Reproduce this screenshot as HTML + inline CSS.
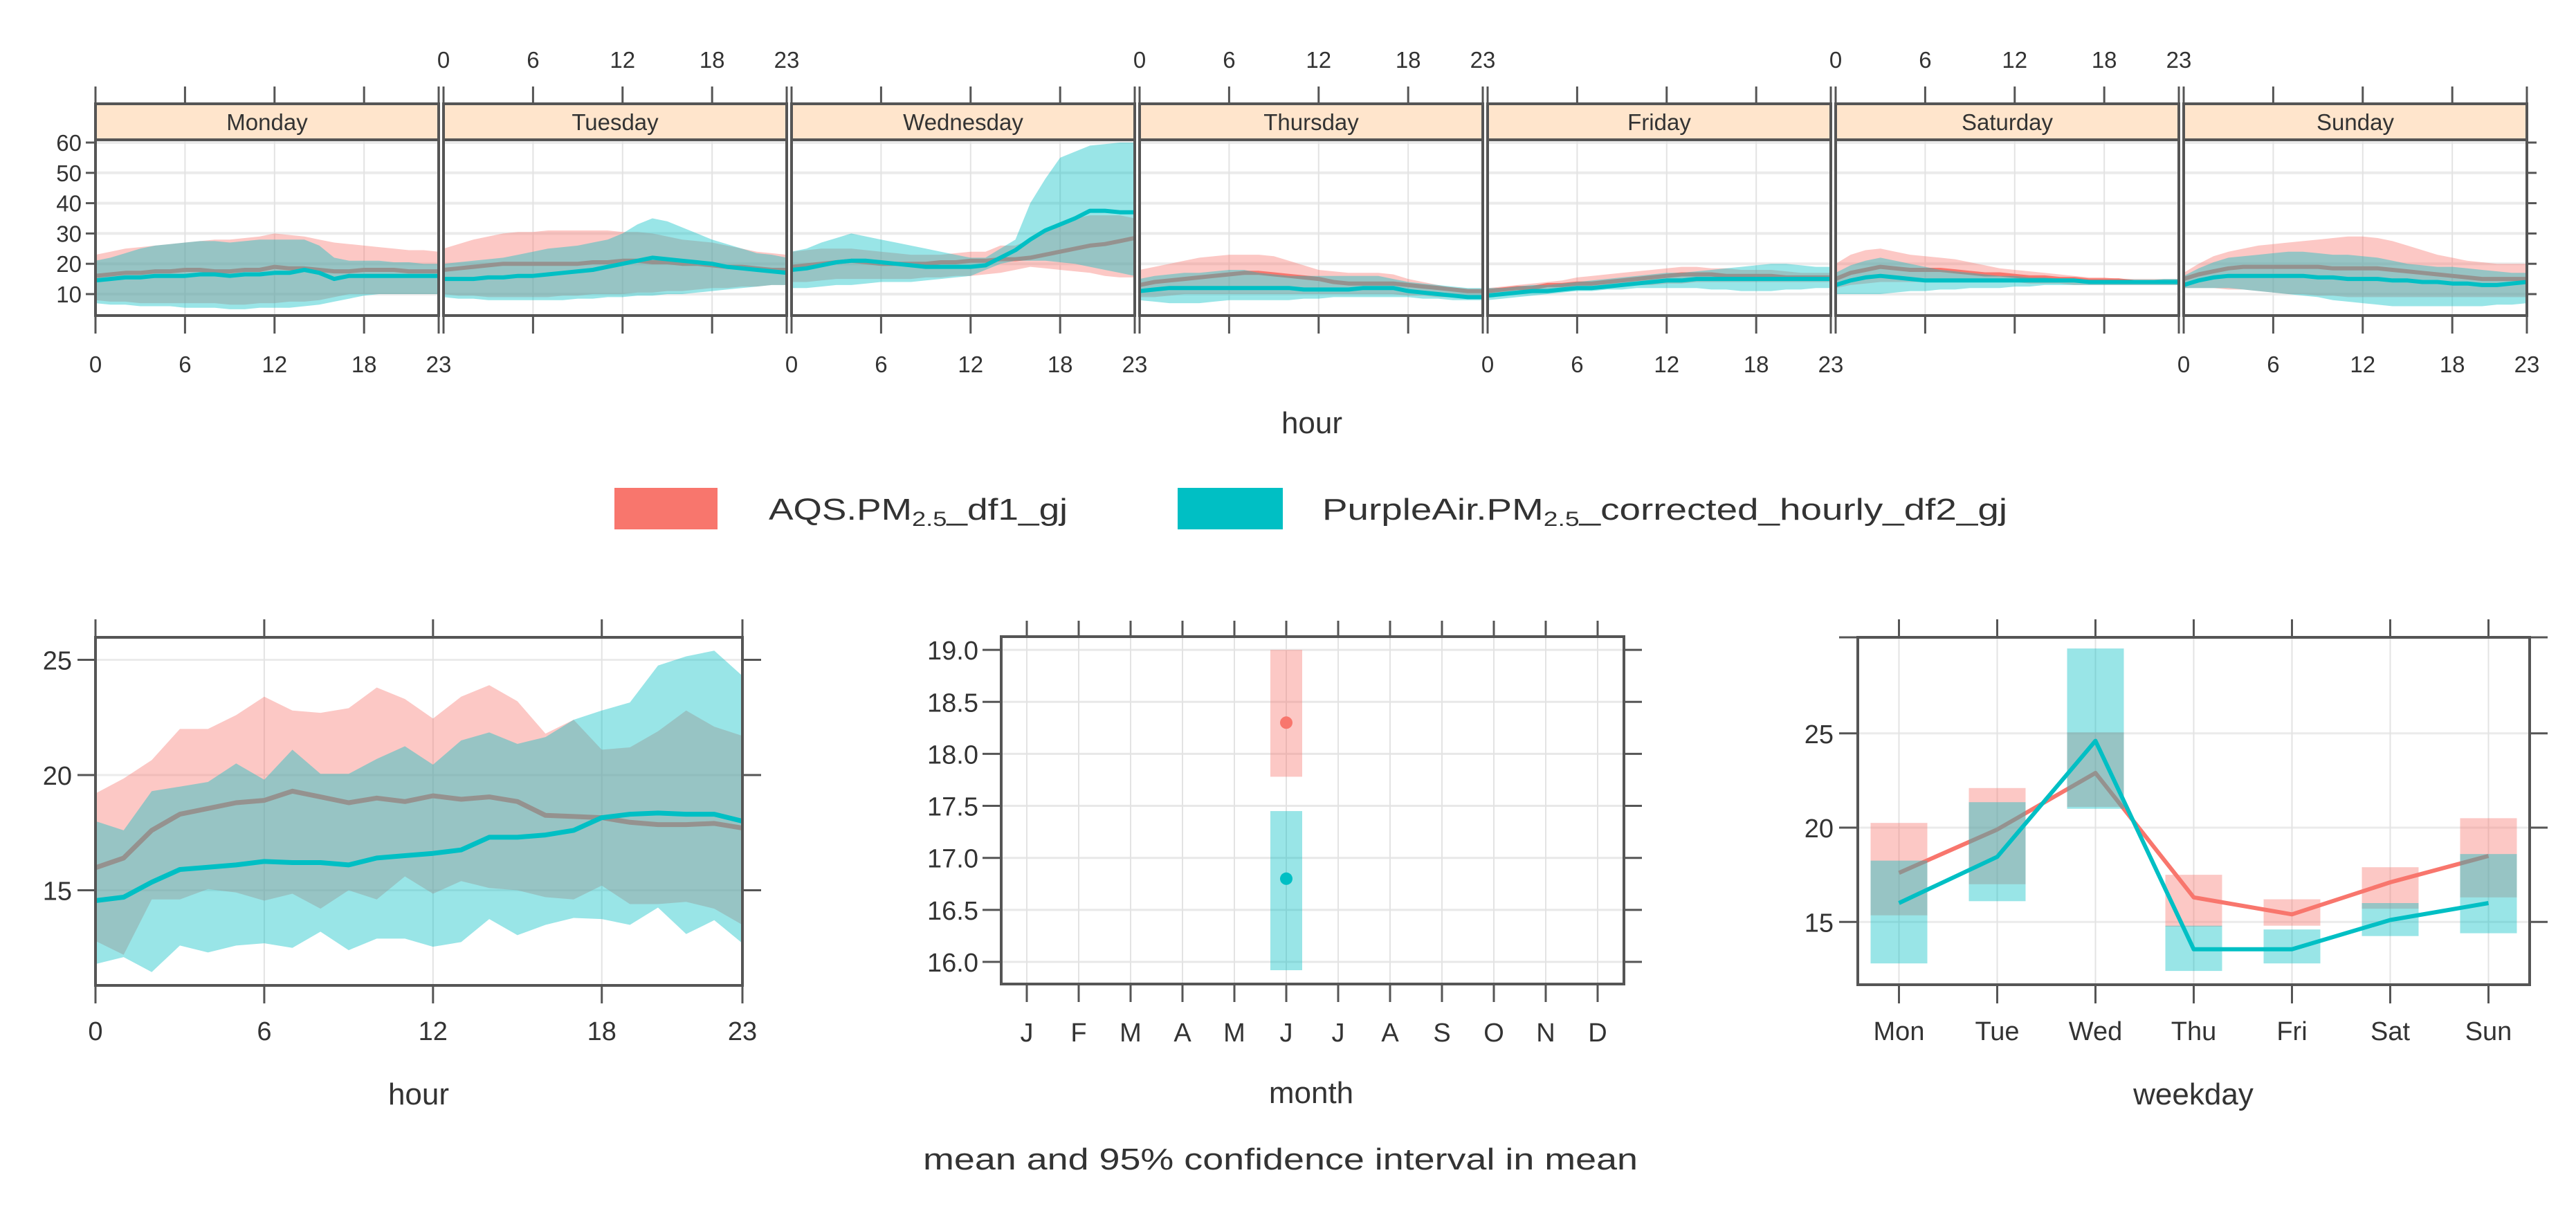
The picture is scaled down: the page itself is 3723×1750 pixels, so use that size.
<!DOCTYPE html>
<html><head><meta charset="utf-8"><style>
html,body{margin:0;padding:0;background:#fff}
svg{display:block}
text{font-family:"Liberation Sans",sans-serif;fill:#333}
</style></head><body>
<svg id="chart" width="3723" height="1750" viewBox="0 0 3723 1750" xmlns="http://www.w3.org/2000/svg">
<g id="top"></g>
<g id="legend">
  <rect x="888" y="705" width="149" height="60" fill="#F8766D"/>
  <text x="1111" y="751" font-size="44" textLength="432" lengthAdjust="spacingAndGlyphs">AQS.PM<tspan font-size="30" dy="9">2.5</tspan><tspan dy="-9">_df1_gj</tspan></text>
  <rect x="1702" y="705" width="152" height="60" fill="#00BFC4"/>
  <text x="1911" y="751" font-size="44" textLength="990" lengthAdjust="spacingAndGlyphs">PurpleAir.PM<tspan font-size="30" dy="9">2.5</tspan><tspan dy="-9">_corrected_hourly_df2_gj</tspan></text>
</g>
<g id="hourP"></g>
<g id="monthP"></g>
<g id="wdP"></g>
<text x="1334" y="1690" font-size="44" textLength="1033" lengthAdjust="spacingAndGlyphs">mean and 95% confidence interval in mean</text>
</svg>
<script>
// ===== data =====
const days = ["Monday","Tuesday","Wednesday","Thursday","Friday","Saturday","Sunday"];
const aqsMeanDay = [
[16,16.5,17,17,17.5,17.5,18,18,17.5,17.5,18,18,19,18.5,18.5,18,17.5,17.5,18,18,18,17.5,17.5,17.5],
[18,18.5,19,19.5,20,20,20,20,20,20,20.5,20.5,21,21,20.5,20.5,20,20,19.5,19,19,18.5,18,18],
[19,19.5,20,20.5,21,20.5,20,20,20,20,20.5,20.5,21,21,21.5,21.5,22,23,24,25,26,26.5,27.5,28.5],
[13,14,14.5,15,15.5,16,16.5,17,17,16.5,16,15.5,15,14,13.5,13.5,13.5,13.5,13,12.5,12,11.5,11,11],
[11,11.5,12,12,13,13,13.5,13.5,14,14.5,15,15.5,16,16.5,16.5,16.5,16,16,16,16,15.5,15.5,15.5,15.5],
[15,17,18,19,18.5,18,18,18,17.5,17,16.5,16.5,16,15.5,15.5,15,15,14.5,14.5,14.5,14,14,14,14],
[15,16.5,17.5,18.5,19,19,19,19,19,19,18.5,18.5,18.5,18.5,18,17.5,17,16.5,16,15.5,15,15,15,15]];
const aqsUpDay = [
[23,24,25,25.5,26,26.5,27,27.5,28,28,28.5,29,30,29.5,29,28,27,26.5,26,25.5,25,24.5,24.5,24],
[25,26.5,28,29,30,30.5,30.5,31,31,31,31,31,30.5,30.5,30,29,28,27.5,27,26,25,24,23.5,23],
[24,24.5,25,25,25,24.5,24,23.5,23,23,23,23.5,24,24,26,26,28,31,33,35,36,36,36,35],
[18,19,20,21,22,22.5,23,23,23,22.5,21,19.5,18,17.5,17,17,17,16.5,15,14,13,12,11.5,11],
[12,12.5,13,13.5,14,14.5,15.5,16,16.5,17,17.5,18,18.5,19,19,18.5,18.5,18,18,18,17.5,17,17,17],
[20,23,24.5,25,24,23,22.5,22,21.5,20.5,19.5,18.5,18,17.5,17,16.5,16,15.5,15.5,15,15,15,15,15],
[17,20,22.5,24,25,26,26.5,27,27.5,28,28.5,29,29,28.5,27.5,26,24.5,23,22,21,20.5,20,20,20]];
const aqsLoDay = [
[8,7.5,7.5,7,7,7,7,7,7,6.5,6.5,7,7,7.5,7.5,8,9,10,10,10,10,10,10,10],
[10,9.5,9.5,9,9,9,9,9,9.5,9.5,10,10,10,10.5,10.5,11,11,11.5,12,12,12.5,12.5,13,13],
[14,14,14.5,15,15,15,15,15,15,15.5,15.5,16,16,16.5,17,18,19,18.5,18,17.5,17,16,15.5,15.5],
[9,9,9.5,10,10,10,10,10,10,10,10,10,10,10,10,10,10,10,9.5,9.5,9,9,9,9],
[10,10,10.5,11,11,11.5,11.5,12,12,12.5,13,13,13.5,13.5,14,14,14,14,14,14,14,14,14,14],
[12,13,13.5,14,14,14,14,14,14,14,14,14,14,13.5,13.5,13.5,13,13,13,13,13,13,13,13],
[12,12,12,11.5,11.5,11,10.5,10,10,9.5,9.5,9,9,9,9,9,9,9,9,9,9,9,9,9]];
const paMeanDay = [
[14.5,15,15.5,15.5,16,16,16,16.5,16.5,16,16.5,16.5,17,17,18,17,15,16,16,16,16,16,16,16],
[15,15,15,15.5,15.5,16,16,16.5,17,17.5,18,19,20,21,22,21.5,21,20.5,20,19,18.5,18,17.5,17],
[18,18.5,19.5,20.5,21,21,20.5,20,19.5,19,19,19,19,19.5,22,24.5,28,31,33,35,37.5,37.5,37,37],
[11,11.5,12,12,12,12,12,12,12,12,12,11.5,11.5,11.5,11.5,12,12,12,11,10.5,10,9.5,9,9],
[9.5,10,10.5,11,11,11.5,12,12,12.5,13,13.5,14,14.5,14.5,15,15,15,15,15,15,15,15,15,15],
[13,14.5,15.5,16,15.5,15,14.5,14.5,14.5,14.5,14.5,14.5,14.5,14.5,14.5,14.5,14.5,14,14,14,14,14,14,14],
[13,14.5,15.5,16,16,16,16,16,16,15.5,15.5,15,15,15,14.5,14.5,14,14,13.5,13.5,13,13,13.5,14]];
const paUpDay = [
[21,22,23.5,25,26,26.5,27,27.5,27.5,27,27.5,28,28,28,28,26,22,21,21,21,20.5,20.5,20,20],
[20,20.5,21,21.5,22,23,24,25,25.5,26,27,28,30,33,35,34,32,30,28,26.5,25,23.5,23,22],
[24,25,27,28.5,30,29,28,27,26,25,24,23,22,22,25,28,40,48,55,57,59,59.5,60,60],
[15,16,16.5,17,17,17.5,18,18,17,16.5,16,16,16,16,16,16,16,15,14,13.5,13,12.5,12,12],
[12,12,12.5,13,13,13.5,14,14.5,15,15.5,16,16.5,17,17,17.5,18,18.5,19,19.5,20,20,19.5,19,19],
[17,19.5,21,22,21,20,19,18,17.5,17,16.5,16,16,15.5,15.5,15,15,14.5,14.5,14.5,14.5,14.5,15,15],
[16,18.5,20.5,22,22.5,23,23.5,24,24,23.5,23,23,22.5,22,21,20,19.5,19,19,18.5,18,17.5,17,17]];
const paLoDay = [
[7,6.5,6.5,6,6,6,5.5,5.5,5.5,5,5,5.5,5.5,5.5,6,6.5,7.5,8.5,9.5,10,10,10,10,10],
[9,8.5,8.5,8,8,8,8,8,8,8.5,8.5,9,9,9.5,9.5,10,10,10.5,11,11.5,12,12.5,13,13],
[12,12,12.5,13,13,13.5,14,14,14,14.5,15,15.5,16,18,20,21,21,21,20.5,20,19,18,17,16],
[8,7.5,7,7,7,7.5,8,8,8,8,8,8.5,8.5,9,9,9,9,9,9,8.5,8.5,8,8,8],
[8,8.5,9,9.5,10,10.5,11,11,11.5,11.5,12,12,12,12,12,11.5,11.5,11,11,11,11.5,11.5,12,12],
[10,10,10,10,10.5,11,11,11.5,11.5,12,12,12,12.5,12.5,13,13,13,13,13,13,13,13,13,13],
[12,12,12,12,11.5,11,10.5,10,9.5,9,8,7.5,7,6.5,6,6,6,6,6,6,6,6.5,6.5,7]];

const aqsMeanHour = [15.98,16.4,17.6,18.3,18.55,18.8,18.9,19.3,19.05,18.8,19.0,18.85,19.1,18.95,19.05,18.85,18.25,18.2,18.15,17.95,17.85,17.85,17.9,17.7];
const aqsUpHour = [19.2,19.85,20.65,22.0,22.0,22.6,23.4,22.8,22.7,22.9,23.8,23.3,22.45,23.4,23.9,23.2,21.8,22.4,21.1,21.2,21.9,22.8,22.1,21.7];
const aqsLoHour = [12.8,12.2,14.6,14.6,15.05,14.9,14.55,14.85,14.2,15.0,14.6,15.6,14.85,15.4,15.1,15.0,14.7,14.6,15.2,14.4,14.4,14.5,14.2,13.5];
const paMeanHour = [14.55,14.7,15.35,15.9,16.0,16.1,16.25,16.2,16.2,16.1,16.4,16.5,16.6,16.75,17.3,17.3,17.4,17.6,18.15,18.3,18.35,18.3,18.3,18.0];
const paUpHour = [18.0,17.6,19.3,19.5,19.7,20.5,19.8,21.1,20.05,20.05,20.7,21.25,20.45,21.5,21.85,21.35,21.65,22.4,22.8,23.15,24.75,25.15,25.4,24.3];
const paLoHour = [11.8,12.1,11.45,12.6,12.3,12.6,12.7,12.5,13.2,12.4,12.9,12.9,12.55,12.75,13.75,13.05,13.5,13.8,13.75,13.5,14.25,13.1,13.7,12.7];

const months = ["J","F","M","A","M","J","J","A","S","O","N","D"];
const monthIdx = [5];
const aqsMonthMean = [18.3], aqsMonthLo = [17.78], aqsMonthUp = [19.0];
const paMonthMean = [16.8], paMonthLo = [15.92], paMonthUp = [17.45];

const weekdays = ["Mon","Tue","Wed","Thu","Fri","Sat","Sun"];
const aqsWdMean = [17.6,19.9,22.9,16.3,15.4,17.1,18.5];
const aqsWdUp = [20.25,22.1,25.05,17.5,16.2,17.9,20.5];
const aqsWdLo = [15.35,17.0,21.1,14.75,14.8,15.7,16.3];
const paWdMean = [16.0,18.45,24.6,13.55,13.55,15.1,16.0];
const paWdUp = [18.25,21.35,29.5,14.8,14.6,16.0,18.6];
const paWdLo = [12.8,16.1,21.0,12.4,12.8,14.25,14.4];

const hourTicks = [0,6,12,18,23];
const topYTicks = [10,20,30,40,50,60];
const hourYTicks = [15,20,25];
const monthYTicks = ["16.0","16.5","17.0","17.5","18.0","18.5","19.0"];
const wdYTicks = [15,20,25];

// ===== drawing =====
const NS="http://www.w3.org/2000/svg";
const C1="#F8766D", C2="#00BFC4";
function mk(parent,tag,attrs){const e=document.createElementNS(NS,tag);for(const k in attrs)e.setAttribute(k,attrs[k]);parent.appendChild(e);return e;}
function txt(parent,x,y,s,size,anchor){const t=mk(parent,'text',{x:x,y:y,'font-size':size,'text-anchor':anchor||'middle'});t.textContent=s;return t;}
function band(g,xs,lo,up,sx,sy,color,op){let d='';for(let i=0;i<xs.length;i++)d+=(i?'L':'M')+sx(xs[i]).toFixed(1)+','+sy(up[i]).toFixed(1);for(let i=xs.length-1;i>=0;i--)d+='L'+sx(xs[i]).toFixed(1)+','+sy(lo[i]).toFixed(1);d+='Z';return mk(g,'path',{d:d,fill:color,'fill-opacity':op});}
function line(g,xs,ys,sx,sy,color,w){let d='';for(let i=0;i<xs.length;i++)d+=(i?'L':'M')+sx(xs[i]).toFixed(1)+','+sy(ys[i]).toFixed(1);return mk(g,'path',{d:d,fill:'none',stroke:color,'stroke-width':w,'stroke-linejoin':'round'});}
const hours=[...Array(24).keys()];
const AX="#555";
const TL=38, TT=44;

// ---- top panels ----
(function(){
 const g=document.getElementById('top');
 const top=202,bot=456, W=496, step=503, x0=138;
 const sy=v=>425-(v-10)*4.38;
 for(let p=0;p<7;p++){
  const L=x0+p*step, R=L+W;
  const sx=h=>L+h*W/23;
  const pg=mk(g,'g',{});
  
  
  topYTicks.forEach(v=>mk(pg,'line',{x1:L,x2:R,y1:sy(v),y2:sy(v),stroke:'#ebebeb','stroke-width':4}));
  hourTicks.forEach(h=>mk(pg,'line',{x1:sx(h),x2:sx(h),y1:top,y2:bot,stroke:'#e3e3e3','stroke-width':2}));
  const cp=mk(pg,'clipPath',{id:'cp'+p});mk(cp,'rect',{x:L,y:top,width:W,height:bot-top});
  const dg=mk(pg,'g',{'clip-path':'url(#cp'+p+')'});
  const b1=band(dg,hours,aqsLoDay[p],aqsUpDay[p],sx,sy,C1,0.4);
  
  
  const l1=line(dg,hours,aqsMeanDay[p],sx,sy,C1,6);
  
  
  const b2=band(dg,hours,paLoDay[p],paUpDay[p],sx,sy,C2,0.4);
  
  
  const l2=line(dg,hours,paMeanDay[p],sx,sy,C2,6);
  
  
  const st=mk(pg,'rect',{x:L,y:150,width:W,height:52,fill:'#FFE5CC',stroke:AX,'stroke-width':4});
  
  
  const stt=txt(pg,(L+R)/2,188,days[p],33);
  
  
  mk(pg,'rect',{x:L,y:top,width:W,height:bot-top,fill:'none',stroke:AX,'stroke-width':4});
  hourTicks.forEach(h=>{mk(pg,'line',{x1:sx(h),x2:sx(h),y1:125,y2:150,stroke:AX,'stroke-width':3});mk(pg,'line',{x1:sx(h),x2:sx(h),y1:456,y2:482,stroke:AX,'stroke-width':3});});
  if(p%2===1){hourTicks.forEach(h=>{const t=txt(pg,sx(h),98,String(h),33);});}
  else{hourTicks.forEach(h=>{const t=txt(pg,sx(h),538,String(h),33);});}
 }
 topYTicks.forEach(v=>{mk(g,'line',{x1:124,x2:138,y1:sy(v),y2:sy(v),stroke:AX,'stroke-width':3});mk(g,'line',{x1:3652,x2:3666,y1:sy(v),y2:sy(v),stroke:AX,'stroke-width':3});
  const t=txt(g,118,sy(v)+12,String(v),33,'end');});
 const t=txt(g,1896,626,'hour',TT);
})();

function panelFrame(g,L,R,T,B){mk(g,'rect',{x:L,y:T,width:R-L,height:B-T,fill:'none',stroke:AX,'stroke-width':4});}

// ---- hour panel ----
(function(){
 const g=document.getElementById('hourP');
 const L=138,R=1073,T=921,B=1424;
 const sx=h=>L+h*(R-L)/23, sy=v=>1120-(v-20)*33.3;
 hourYTicks.forEach(v=>mk(g,'line',{x1:L,x2:R,y1:sy(v),y2:sy(v),stroke:'#ebebeb','stroke-width':3}));
 hourTicks.forEach(h=>mk(g,'line',{x1:sx(h),x2:sx(h),y1:T,y2:B,stroke:'#e3e3e3','stroke-width':2}));
 const b1=band(g,hours,aqsLoHour,aqsUpHour,sx,sy,C1,0.4);
 
 
 const l1=line(g,hours,aqsMeanHour,sx,sy,C1,7);
 
 
 const b2=band(g,hours,paLoHour,paUpHour,sx,sy,C2,0.4);
 
 
 const l2=line(g,hours,paMeanHour,sx,sy,C2,7);
 
 
 panelFrame(g,L,R,T,B);
 hourTicks.forEach(h=>{mk(g,'line',{x1:sx(h),x2:sx(h),y1:895,y2:T,stroke:AX,'stroke-width':3});mk(g,'line',{x1:sx(h),x2:sx(h),y1:B,y2:1450,stroke:AX,'stroke-width':3});
  const t=txt(g,sx(h),1503,String(h),TL);});
 hourYTicks.forEach(v=>{mk(g,'line',{x1:112,x2:L,y1:sy(v),y2:sy(v),stroke:AX,'stroke-width':3});mk(g,'line',{x1:R,x2:1100,y1:sy(v),y2:sy(v),stroke:AX,'stroke-width':3});
  const t=txt(g,104,sy(v)+14,String(v),TL,'end');});
 const t=txt(g,605,1596,'hour',TT);
})();

// ---- month panel ----
(function(){
 const g=document.getElementById('monthP');
 const L=1447,R=2347,T=920,B=1422;
 const sx=i=>1484+i*75, sy=v=>1390-(v-16)*150.3;
 monthYTicks.forEach(s=>mk(g,'line',{x1:L,x2:R,y1:sy(+s),y2:sy(+s),stroke:'#e8e8e8','stroke-width':3}));
 months.forEach((m,i)=>mk(g,'line',{x1:sx(i),x2:sx(i),y1:T,y2:B,stroke:'#e3e3e3','stroke-width':2}));
 monthIdx.forEach((mi,k)=>{
  const r1=mk(g,'rect',{x:sx(mi)-23,y:sy(aqsMonthUp[k]),width:46,height:sy(aqsMonthLo[k])-sy(aqsMonthUp[k]),fill:C1,'fill-opacity':0.4});
  
  
  const r2=mk(g,'rect',{x:sx(mi)-23,y:sy(paMonthUp[k]),width:46,height:sy(paMonthLo[k])-sy(paMonthUp[k]),fill:C2,'fill-opacity':0.4});
  
  
  const c1=mk(g,'circle',{cx:sx(mi),cy:sy(aqsMonthMean[k]),r:9,fill:C1});
  
  
  const c2=mk(g,'circle',{cx:sx(mi),cy:sy(paMonthMean[k]),r:9,fill:C2});
  
  
 });
 panelFrame(g,L,R,T,B);
 months.forEach((m,i)=>{mk(g,'line',{x1:sx(i),x2:sx(i),y1:897,y2:T,stroke:AX,'stroke-width':3});mk(g,'line',{x1:sx(i),x2:sx(i),y1:B,y2:1448,stroke:AX,'stroke-width':3});
  const t=txt(g,sx(i),1505,m,TL);});
 monthYTicks.forEach(s=>{mk(g,'line',{x1:1420,x2:L,y1:sy(+s),y2:sy(+s),stroke:AX,'stroke-width':3});mk(g,'line',{x1:R,x2:2373,y1:sy(+s),y2:sy(+s),stroke:AX,'stroke-width':3});
  const t=txt(g,1414,sy(+s)+14,s,TL,'end');});
 const t=txt(g,1895,1594,'month',TT);
})();

// ---- weekday panel ----
(function(){
 const g=document.getElementById('wdP');
 const L=2685,R=3656,T=921,B=1423;
 const idx=weekdays.map((d,i)=>i);
 const sx=i=>2744.5+i*142, sy=v=>1196-(v-20)*27.25;
 wdYTicks.forEach(v=>mk(g,'line',{x1:L,x2:R,y1:sy(v),y2:sy(v),stroke:'#ebebeb','stroke-width':3}));
 idx.forEach(i=>mk(g,'line',{x1:sx(i),x2:sx(i),y1:T,y2:B,stroke:'#e3e3e3','stroke-width':2}));
 idx.forEach(i=>{const r=mk(g,'rect',{x:sx(i)-41,y:sy(aqsWdUp[i]),width:82,height:sy(aqsWdLo[i])-sy(aqsWdUp[i]),fill:C1,'fill-opacity':0.4});
  
  });
 const l1=line(g,idx,aqsWdMean,sx,sy,C1,6);
 
 
 idx.forEach(i=>{const r=mk(g,'rect',{x:sx(i)-41,y:sy(paWdUp[i]),width:82,height:sy(paWdLo[i])-sy(paWdUp[i]),fill:C2,'fill-opacity':0.4});
  
  });
 const l2=line(g,idx,paWdMean,sx,sy,C2,6);
 
 
 panelFrame(g,L,R,T,B);
 idx.forEach(i=>{mk(g,'line',{x1:sx(i),x2:sx(i),y1:895,y2:T,stroke:AX,'stroke-width':3});mk(g,'line',{x1:sx(i),x2:sx(i),y1:B,y2:1450,stroke:AX,'stroke-width':3});
  const t=txt(g,sx(i),1503,weekdays[i],TL);});
 wdYTicks.forEach(v=>{mk(g,'line',{x1:2658,x2:L,y1:sy(v),y2:sy(v),stroke:AX,'stroke-width':3});mk(g,'line',{x1:R,x2:3682,y1:sy(v),y2:sy(v),stroke:AX,'stroke-width':3});
  const t=txt(g,2650,sy(v)+14,String(v),TL,'end');});
 mk(g,'line',{x1:2658,x2:L,y1:T,y2:T,stroke:AX,'stroke-width':3});
 mk(g,'line',{x1:R,x2:3682,y1:T,y2:T,stroke:AX,'stroke-width':3});
 const t=txt(g,3170,1596,'weekday',TT);
})();
</script>
</body></html>
